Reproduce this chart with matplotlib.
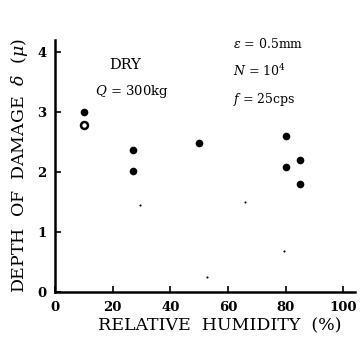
import matplotlib
matplotlib.use("Agg")
import matplotlib.pyplot as plt

# measured points (relative humidity %, depth of damage)
rh_filled = [10, 27, 27, 50, 80, 80, 85, 85]
depth_filled = [3.0, 2.36, 2.02, 2.48, 2.6, 2.08, 2.2, 1.8]
rh_open = [10]
depth_open = [2.78]

# small specks in the scanned figure
speck_x = [29.6, 66, 79.3, 52.8]
speck_y = [1.45, 1.5, 0.68, 0.25]

xticks = [0, 20, 40, 60, 80, 100]
yticks = [0, 1, 2, 3, 4]

plt.rcParams['font.family'] = ['DejaVu Serif']
plt.rcParams['mathtext.fontset'] = 'dejavuserif'

fig = plt.figure(figsize=(3.64, 3.47), dpi=100)
ax = fig.add_axes([0.151, 0.158, 0.824, 0.727])

ax.plot(rh_filled, depth_filled, 'o', color='black', ms=5.5, mew=0)
ax.plot(rh_open, depth_open, 'o', mfc='white', mec='black', ms=5, mew=1.8)
ax.plot(speck_x, speck_y, 'o', color='black', ms=1.5, mew=0)

ax.set_xlim(0, 104)
ax.set_ylim(0, 4.2)
ax.set_xticks(xticks)
ax.set_yticks(yticks)
ax.tick_params(direction='in', length=4, width=1.2, labelsize=9.5, pad=6)
for lab in ax.get_xticklabels() + ax.get_yticklabels():
    lab.set_fontweight('bold')
for s in ['top', 'right']:
    ax.spines[s].set_visible(False)
for s in ['left', 'bottom']:
    ax.spines[s].set_linewidth(1.8)

ax.set_xlabel('RELATIVE  HUMIDITY  (%)', fontsize=12.5)
ax.xaxis.set_label_coords(0.55, -0.1)
ax.set_ylabel(r'DEPTH  OF  DAMAGE  $\delta$  $(\mu)$', fontsize=12.5, labelpad=5)

ax.text(0.18, 0.9, 'DRY', transform=ax.transAxes, fontsize=10.5, ha='left', va='center')
ax.text(0.133, 0.795, r'$Q$ = 300kg', transform=ax.transAxes, fontsize=9.5, ha='left', va='center')
ax.text(0.593, 0.985, r'$\epsilon$ = 0.5mm', transform=ax.transAxes, fontsize=9, ha='left', va='center')
ax.text(0.593, 0.875, r'$N$ = 10$^4$', transform=ax.transAxes, fontsize=9, ha='left', va='center')
ax.text(0.593, 0.765, r'$f$ = 25cps', transform=ax.transAxes, fontsize=9, ha='left', va='center')

fig.savefig('out.png', dpi=100)
